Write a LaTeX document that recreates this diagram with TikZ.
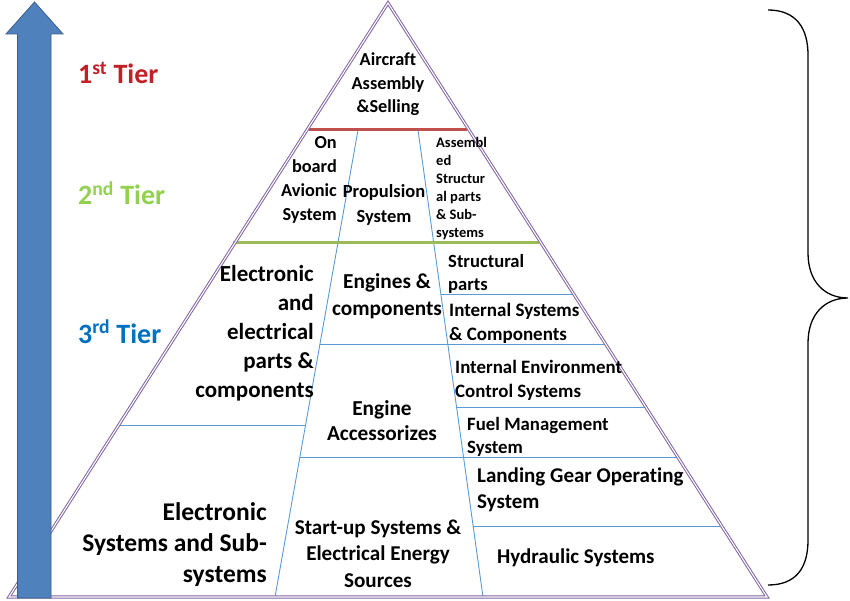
\documentclass[tikz,border=0pt]{standalone}
\usepackage{fontspec}
\setmainfont{Carlito}[Ligatures=NoCommon]
\newcommand\myfs[2]{\fontsize{#1}{#2}\selectfont\bfseries}
\definecolor{tri}{RGB}{128,100,162}
\definecolor{bl}{RGB}{91,155,213}
\definecolor{redl}{RGB}{192,80,77}
\definecolor{greenl}{RGB}{155,187,89}
\definecolor{arrfill}{RGB}{79,129,189}
\definecolor{arrdraw}{RGB}{56,93,138}
\definecolor{tred}{RGB}{192,32,38}
\definecolor{tgreen}{RGB}{146,208,80}
\definecolor{tblue}{RGB}{0,112,192}
\begin{document}
\begin{tikzpicture}[x=1pt,y=-1pt,
  lbl/.style={inner sep=0pt, text=black},
  divider/.style={draw=bl, line width=0.9pt},
  tierlbl/.style={inner sep=0pt, anchor=base west, font=\myfs{28}{32}}]
\useasboundingbox (0,0) rectangle (850,601);
% corners
\coordinate (apex) at (388,3);
\coordinate (bl) at (9,597);
\coordinate (br) at (767,597);
% column dividers
\coordinate (lt) at (358,130);
\coordinate (lb) at (275,597);
\coordinate (rt) at (418,130);
\coordinate (rb) at (483,597);
\draw[divider] (lt) -- (lb);
\draw[divider] (rt) -- (rb);
% horizontal dividers
\coordinate (h1a) at (320,344);   \coordinate (h1b) at (605.6,344);
\coordinate (h2a) at (440.8,294); \coordinate (h2b) at (573.7,294);
\coordinate (h3a) at (456.6,407); \coordinate (h3b) at (645.8,407);
\coordinate (h4a) at (299.9,457); \coordinate (h4b) at (677.7,457);
\coordinate (h5a) at (473.1,526); \coordinate (h5b) at (721.7,526);
\coordinate (h6a) at (118.8,425); \coordinate (h6b) at (305.6,425);
\draw[divider] (h1a) -- (h1b);
\draw[divider] (h2a) -- (h2b);
\draw[divider] (h3a) -- (h3b);
\draw[divider] (h4a) -- (h4b);
\draw[divider] (h5a) -- (h5b);
\draw[divider] (h6a) -- (h6b);
% tier separators
\coordinate (ra) at (309,130); \coordinate (rb2) at (467,130);
\coordinate (ga) at (233,243); \coordinate (gb) at (539,243);
\draw[redl, line width=3pt] (ra) -- (rb2);
\draw[greenl, line width=3pt] (ga) -- (gb);
% triangle
\draw[tri, line width=1pt, double=white, double distance=1.1pt, line join=miter] (apex) -- (br) -- (bl) -- cycle;
% arrow
\filldraw[fill=arrfill, draw=arrdraw, line width=0.8pt] (17.5,598) -- (17.5,34) -- (6,34) -- (34.5,2) -- (63,34) -- (51,34) -- (51,598) -- cycle;
% brace
\coordinate (bt) at (768,10);
\coordinate (btip) at (848,298);
\coordinate (bb) at (768,585);
\draw[black, line width=1.3pt] (bt) .. controls (796,10) and (808,28) .. (808,55) -- (808,253)
  .. controls (808,282) and (825,298) .. (btip)
  .. controls (825,298) and (808,314) .. (808,343) -- (808,540)
  .. controls (808,568) and (796,585) .. (bb);
% tier labels
\node[tierlbl, text=tred] (t1) at (78,84) {1\textsuperscript{st} Tier};
\node[tierlbl, text=tgreen] (t2) at (78,205) {2\textsuperscript{nd} Tier};
\node[tierlbl, text=tblue] (t3) at (78,343) {3\textsuperscript{rd} Tier};
% texts
\node[lbl, align=center, font=\myfs{18.3}{23.5}] (aas) at (388,84.5) {Aircraft\\Assembly\\\&Selling};
\node[lbl, align=right, anchor=east, font=\myfs{18.3}{24}] (oba) at (337,179.5) {On\\board\\Avionic\\System};
\node[lbl, align=center, font=\myfs{18.5}{25}] (prop) at (384,205) {Propulsion\\System};
\node[lbl, align=left, anchor=west, font=\myfs{14.5}{18}] (asp) at (436,188.5) {Assembl\\ed\\Structur\\al parts\\\& Sub-\\systems};
\node[lbl, align=right, anchor=east, font=\myfs{23}{29}] (eep) at (314,333.5) {Electronic\\and\\electrical\\parts \&\\components};
\node[lbl, align=center, font=\myfs{21.3}{27}] (eng) at (387,296.5) {Engines \&\\components};
\node[lbl, align=center, font=\myfs{21.3}{25}] (acc) at (382,420.5) {Engine\\Accessorizes};
\node[lbl, align=right, anchor=east, font=\myfs{25.5}{31}] (ess) at (267,545) {Electronic\\Systems and Sub-\\systems};
\node[lbl, align=center, font=\myfs{21.1}{26.5}] (sus) at (378,553.5) {Start-up Systems \&\\Electrical Energy\\Sources};
\node[lbl, align=left, anchor=west, font=\myfs{18.6}{23.5}] (stp) at (448,274) {Structural\\parts};
\node[lbl, align=left, anchor=west, font=\myfs{19}{24}] (isc) at (449,323.5) {Internal Systems\\\& Components};
\node[lbl, align=left, anchor=west, font=\myfs{18.9}{24}] (iec) at (455,380.5) {Internal Environment\\Control Systems};
\node[lbl, align=left, anchor=west, font=\myfs{18.8}{23}] (fms) at (467,437) {Fuel Management\\System};
\node[lbl, align=left, anchor=west, font=\myfs{21}{26}] (lgo) at (477,490) {Landing Gear Operating\\System};
\node[lbl, anchor=west, font=\myfs{21}{24}] (hyd) at (497,557.5) {Hydraulic Systems};
\end{tikzpicture}
\end{document}
